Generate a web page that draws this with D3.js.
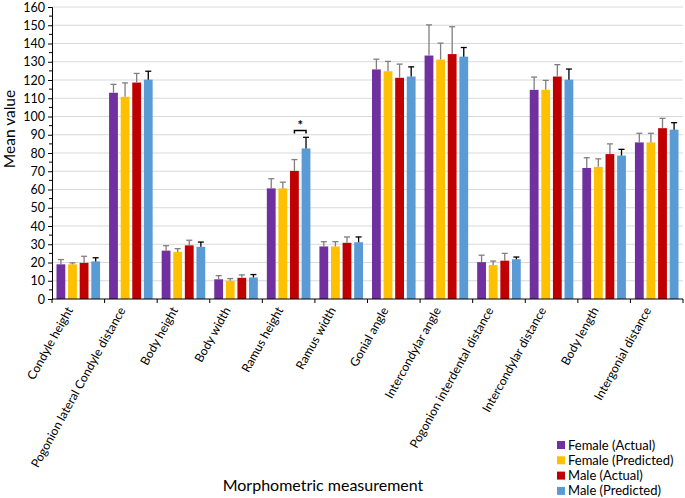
<!DOCTYPE html>
<html><head><meta charset="utf-8">
<script src="https://cdn.jsdelivr.net/npm/d3@7"></script>
<style>body{margin:0;background:#fff}svg{display:block;font-family:Lato,"Liberation Sans",Arial,sans-serif}</style>
</head><body><svg id="c" width="685" height="498"></svg>
<script>
const categories = ["Condyle height","Pogonion lateral Condyle distance","Body height","Body width","Ramus height","Ramus width","Gonial angle","Intercondylar angle","Pogonion interdental distance","Intercondylar distance","Body length","Intergonial distance"];
const seriesNames = ["Female (Actual)","Female (Predicted)","Male (Actual)","Male (Predicted)"];
const femaleActual    = [19, 113, 26.5, 10.8, 60.6, 28.8, 125.8, 133.4, 20.2, 114.6, 71.8, 85.8];
const femalePredicted = [19, 110.8, 25.8, 10.0, 60.6, 28.8, 124.8, 131.2, 18.6, 114.6, 72.4, 85.8];
const maleActual      = [19.8, 118.6, 29.4, 11.6, 70.2, 30.8, 121.2, 134.2, 21.0, 121.9, 79.4, 93.6];
const malePredicted   = [20.6, 120.2, 28.6, 11.8, 82.5, 31.1, 121.9, 132.8, 21.8, 120.2, 78.6, 92.8];
const femaleActualErr    = [21.6, 117.6, 29.2, 12.8, 65.9, 31.4, 131.4, 150.2, 24.0, 121.6, 77.4, 90.8];
const femalePredictedErr = [19.8, 118.4, 27.6, 11.2, 64.0, 31.4, 130.2, 140.2, 20.8, 119.8, 76.8, 90.8];
const maleActualErr      = [23.4, 123.6, 32.2, 13.2, 76.4, 34.0, 128.7, 149.2, 25.0, 128.4, 85.0, 99.0];
const malePredictedErr   = [22.6, 124.8, 31.2, 13.4, 88.6, 34.0, 127.2, 137.8, 23.0, 126.0, 82.0, 96.6];
const yTicks = [0,10,20,30,40,50,60,70,80,90,100,110,120,130,140,150,160];
const colors = ["#7030A0","#FFC000","#C00000","#5B9BD5"];
const errColors = ["#7f7f7f","#7f7f7f","#7f7f7f","#000000"];

const values = [femaleActual, femalePredicted, maleActual, malePredicted];
const errs = [femaleActualErr, femalePredictedErr, maleActualErr, malePredictedErr];

const svg = d3.select("#c");
const L = 52, R = 683, T = 7, B = 299;
const x = d3.scaleBand().domain(categories).range([L, R]).paddingInner(0).paddingOuter(0);
const xi = d3.scaleBand().domain(seriesNames).range([4.5, x.bandwidth() - 4.5]).paddingInner(0.24);
const y = d3.scaleLinear().domain([0, 160]).range([B, T]);

// grid
svg.append("g").selectAll("line").data(yTicks.filter(d => d > 0)).join("line")
  .attr("x1", L).attr("x2", R).attr("y1", d => y(d)).attr("y2", d => y(d))
  .attr("stroke", "#d9d9d9").attr("stroke-width", 1);

// bars
const groups = svg.append("g").selectAll("g").data(categories).join("g")
  .attr("transform", d => `translate(${x(d)},0)`);
seriesNames.forEach((s, si) => {
  groups.append("rect")
    .attr("x", xi(s)).attr("width", xi.bandwidth())
    .attr("y", (d, i) => y(values[si][i]))
    .attr("height", (d, i) => y(0) - y(values[si][i]))
    .attr("fill", colors[si]);
  const cx = xi(s) + xi.bandwidth() / 2;
  groups.append("line")
    .attr("x1", cx).attr("x2", cx)
    .attr("y1", (d, i) => y(values[si][i])).attr("y2", (d, i) => y(errs[si][i]))
    .attr("stroke", errColors[si]).attr("stroke-width", 1.3);
  groups.append("line")
    .attr("x1", cx - 3).attr("x2", cx + 3)
    .attr("y1", (d, i) => y(errs[si][i])).attr("y2", (d, i) => y(errs[si][i]))
    .attr("stroke", errColors[si]).attr("stroke-width", 1.3);
});

// significance bracket on Ramus height
const rc = "Ramus height";
const bx1 = x(rc) + xi(seriesNames[2]) + xi.bandwidth() / 2;
const bx2 = x(rc) + xi(seriesNames[3]) + xi.bandwidth() / 2;
const by = y(92.3);
svg.append("path").attr("d", `M${bx1},${by + 3}V${by}H${bx2}V${by + 3}`)
  .attr("fill", "none").attr("stroke", "#000").attr("stroke-width", 1.5);
svg.append("text").attr("x", (bx1 + bx2) / 2).attr("y", by - 1).attr("text-anchor", "middle")
  .attr("font-size", 13).attr("font-weight", "bold").text("*");

// y axis
const yAxis = svg.append("g").attr("transform", `translate(${L},0)`)
  .call(d3.axisLeft(y).tickValues(yTicks).tickSize(4).tickPadding(3));
yAxis.select(".domain").attr("stroke", "#000");
yAxis.selectAll(".tick line").attr("stroke", "#000");
yAxis.selectAll("text").attr("font-size", 12.5).attr("fill", "#000").attr("font-family", "Lato, Liberation Sans, Arial, sans-serif");
svg.append("g").selectAll("line").data(d3.range(5, 160, 10)).join("line")
  .attr("x1", L - 3).attr("x2", L).attr("y1", d => y(d)).attr("y2", d => y(d)).attr("stroke", "#000");

// x axis
svg.append("line").attr("x1", L).attr("x2", R).attr("y1", B).attr("y2", B).attr("stroke", "#000");
svg.append("g").selectAll("line").data(categories).join("line")
  .attr("x1", d => x(d) + x.bandwidth()).attr("x2", d => x(d) + x.bandwidth())
  .attr("y1", B).attr("y2", B + 4).attr("stroke", "#000");
svg.append("line").attr("x1", L).attr("x2", L).attr("y1", B).attr("y2", B + 4).attr("stroke", "#000");
svg.append("g").selectAll("text").data(categories).join("text")
  .attr("transform", d => `translate(${x(d) + x.bandwidth() / 2 - 5},${B + 11}) rotate(-61)`)
  .attr("text-anchor", "end").attr("font-size", 12.2).attr("fill", "#000").text(d => d);

// axis titles
svg.append("text").attr("transform", `translate(15,129) rotate(-90)`)
  .attr("text-anchor", "middle").attr("font-size", 15.5).text("Mean value");
svg.append("text").attr("x", 323).attr("y", 491).attr("text-anchor", "middle")
  .attr("font-size", 16).text("Morphometric measurement");

// legend
const lg = svg.append("g").attr("transform", "translate(557,445)");
seriesNames.forEach((s, i) => {
  lg.append("rect").attr("x", 0).attr("y", i * 15.3 - 4).attr("width", 8).attr("height", 8).attr("fill", colors[i]);
  lg.append("text").attr("x", 11).attr("y", i * 15.3 + 4.5).attr("font-size", 13).text(s);
});
</script></body></html>
